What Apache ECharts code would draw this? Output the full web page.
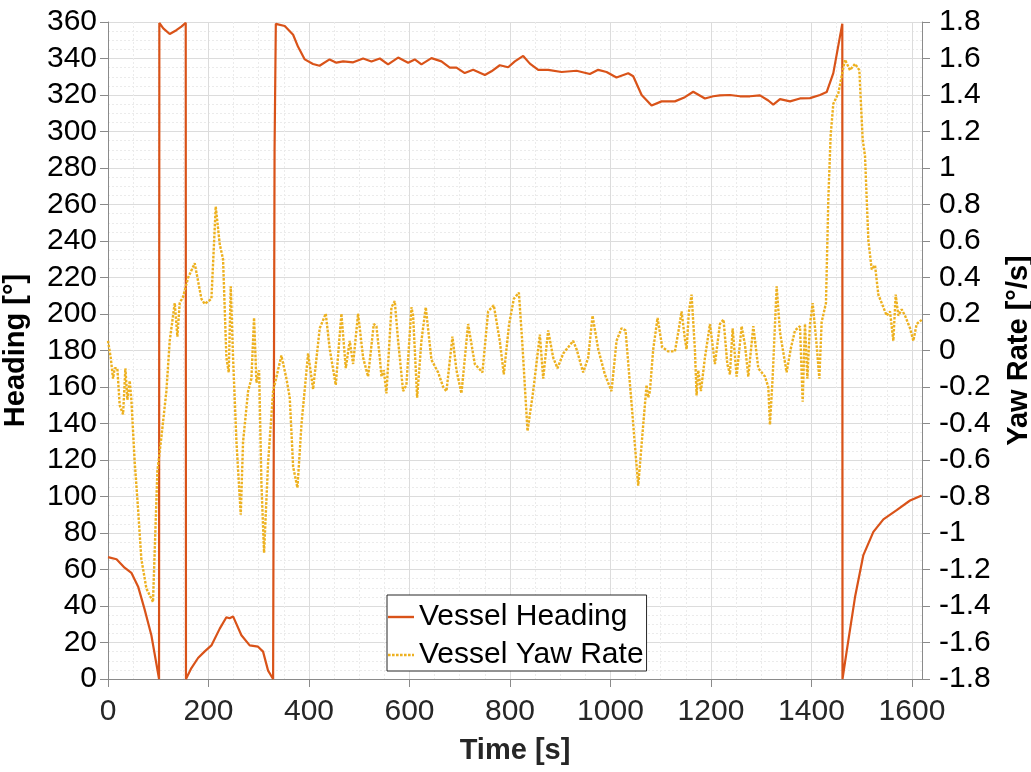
<!DOCTYPE html>
<html>
<head>
<meta charset="utf-8">
<script src="https://cdn.jsdelivr.net/npm/echarts@6/dist/echarts.min.js"></script>
<style>html,body{margin:0;padding:0;background:#fff;}#c{width:1031px;height:772px;}</style>
</head>
<body>
<div id="c"></div>
<script>
const headingTime = [0,17,33,46.5,60,73,86.3,101.6,102.2,110,122.8,136,146,154.7,155.2,166,179.2,192,205.8,222.4,235.6,242,248.9,265.5,282,298.7,308.6,318.6,328.6,331.5,334,351.8,368.4,378.3,391.6,408,421,441,454.6,468,488,507.7,524.3,541,557.4,577.4,597.3,610.5,623.8,643.7,663.6,680.2,693.5,710,726.7,750,763.2,779.7,796.4,809.7,826.3,839.6,856.2,876,902.6,932.5,959,975.6,992.2,1012,1035.3,1045.3,1062,1081.8,1101.7,1128.2,1148.1,1164.7,1188,1204.5,1217.9,1237.8,1257.7,1277.6,1297.5,1314.1,1324,1337.4,1357.3,1377.2,1397.1,1417,1430.3,1443.5,1461.4,1461.8,1470,1486.7,1503.3,1523.2,1543.1,1569.6,1596.2,1619.4];
const headingValue = [66.8,65.6,61,58.2,50.6,38,24,0,359.5,356.5,353.4,355.5,357.5,359.6,0,6,11.5,15,18.4,27.6,33.8,33.3,34.3,24,18.4,17.7,15,4.6,0,290,359,357.8,353,346.4,339.5,337,336,339.5,337.7,338.4,337.9,340,338.4,340,336.8,340.5,337.7,339.5,336.8,340.2,338.4,335,335,332,333.8,331,333,336.3,335.2,338.4,341.4,337.2,333.8,333.8,332.6,333.3,331.5,333.8,332.6,329.6,331.9,330.3,320,314.2,316.5,316.5,318.8,321.8,318.1,319.3,319.8,320,319.3,319.3,319.8,317,314.7,317.7,316.5,318.1,318.3,320,321.6,332,359.1,0,15,44.9,67.9,80.6,87.5,92.5,97.8,100.6];

const yawTime = [0,5.4,10,13.3,18.6,23.3,30,34.6,38.6,43.2,46.5,53.2,59.8,66.4,76.4,89.6,93,98.3,106.2,116.2,122.8,132.8,138.1,142.7,149.4,159.3,172.6,185.9,192.5,205.8,214.4,222.4,229,235.6,240.3,244.3,248.9,255.6,264.2,268.8,278.8,285.4,290.7,295.4,300.7,305.3,310.6,318.6,328.6,345.1,355.1,361.7,368.4,377,385,398.2,408.2,
421.4,433.4,441.3,453.3,464.5,473.2,481.1,487.8,497.7,507.7,517.6,528.9,534.2,540.9,544.2,548.8,554.1,564.1,570.7,577.4,587.3,593.9,603.9,607.2,615.2,623.8,632.4,643.7,657,667,673.6,685.5,693.5,703.4,716.7,730,745.2,756.5,767.8,779.7,787.7,798.3,807.6,
817.7,824.3,834.9,846.2,859.5,866.1,876,886,894.6,906,915.9,925.8,932.5,945.7,955.7,964.3,975.6,988.9,1002.1,1012.1,1022,1030,1042,1055.2,1065.2,1071.8,1075.1,1078.5,1085.1,1093.7,1103,1115,1128.2,1134.9,1141.5,1148.1,1151.5,1156.1,1161.4,1168,1171.4,1174.7,1180,1188,1198,1207.9,1217.8,
1225,1232.5,1237.8,1243.1,1251.1,1261,1267.7,1274.3,1284.3,1294.2,1307.5,1314.1,1317.4,1322.7,1330.7,1337.4,1350.6,1358.6,1367.2,1377.2,1382.5,1387.1,1391.8,1397.1,1402.4,1410.3,1415.7,1420.3,1428.9,1433.6,1438.2,1443.5,1453.5,1460.1,1466.7,1476.7,1486.7,1495.3,1501.9,1506.6,1513.2,1519.9,1526.5,1533.1,1543.1,1549.7,1556.3,1563,1567.6,1572.9,1579.6,1586.2,1596.2,1602.8,1609.4,1619.4];
const yawValue = [0.053,-0.039,-0.154,-0.097,-0.097,-0.30,-0.35,-0.097,-0.27,-0.166,-0.27,-0.614,-0.867,-1.143,-1.304,-1.378,-1.37,-0.66,-0.476,-0.223,0.053,0.26,0.076,0.26,0.294,0.398,0.478,0.283,0.255,0.283,0.789,0.582,0.50,-0.039,-0.12,0.352,-0.039,-0.5,-0.90,-0.5,-0.223,-0.154,0.179,-0.177,-0.108,-0.729,-1.109,-0.614,-0.223,-0.028,-0.154,-0.258,-0.637,-0.752,-0.407,-0.016,-0.212,
0.122,0.202,0.007,-0.189,0.202,-0.097,0.053,-0.074,0.202,-0.039,-0.143,0.145,0.133,-0.039,-0.143,-0.108,-0.235,0.237,0.271,0.053,-0.223,-0.189,0.237,0.191,-0.258,0.053,0.237,-0.051,-0.12,-0.2,-0.223,0.076,-0.108,-0.235,0.145,-0.074,-0.12,0.214,0.248,0.053,-0.131,0.145,0.283,
0.317,0.053,-0.442,-0.223,0.087,-0.154,0.110,-0.039,-0.097,-0.016,0.018,0.053,0.007,-0.12,-0.039,0.191,0.007,-0.131,-0.223,0.053,0.122,0.11,-0.292,-0.741,-0.407,-0.189,-0.258,-0.223,0.007,0.179,0.018,-0.005,-0.005,0.099,0.214,0.064,0.007,0.214,0.306,0.007,-0.246,-0.108,-0.223,-0.039,0.145,-0.074,0.145,
0.17,-0.074,-0.131,0.122,-0.143,0.133,0.03,-0.143,0.133,-0.097,-0.143,-0.2,-0.407,-0.154,0.352,0.099,-0.12,0.007,0.11,0.133,-0.281,0.145,-0.154,0.145,0.26,0.03,-0.154,0.156,0.26,0.835,1.18,1.352,1.41,1.502,1.594,1.536,1.571,1.536,1.157,1.065,0.605,0.444,0.467,0.306,0.237,0.191,0.214,0.053,0.306,0.191,0.225,0.191,0.122,0.053,0.145,0.168];

const seriesNames = ['Vessel Heading', 'Vessel Yaw Rate'];
const axisTitles = {x: 'Time [s]', left: 'Heading [°]', right: 'Yaw Rate [°/s]'};

const FONT = "'Liberation Sans', Arial, Helvetica, sans-serif";
const chart = echarts.init(document.getElementById('c'), null, {renderer: 'canvas'});
const headingData = headingTime.map((t, i) => [t, headingValue[i]]);
const yawData = yawTime.map((t, i) => [t, yawValue[i]]);

const majorGrid = {show: true, lineStyle: {color: '#dcdcdc', width: 1}};
const minorGrid = {show: true, lineStyle: {color: '#ebebeb', width: 1, type: [2, 2]}};
const solidIcon = 'path://M0,0H26V2.4H0Z';
const dotIcon = 'path://M0,0h2.6v2.4h-2.6z M4,0h2.6v2.4h-2.6z M8,0h2.6v2.4h-2.6z M12,0h2.6v2.4h-2.6z M16,0h2.6v2.4h-2.6z M20,0h2.6v2.4h-2.6z M24,0h2v2.4h-2z';

chart.setOption({
  animation: false,
  backgroundColor: '#ffffff',
  textStyle: {fontFamily: FONT},
  grid: {left: 108, right: 109, top: 22, bottom: 93, containLabel: false, outerBoundsMode: 'none'},
  legend: {
    left: 387, top: 595, orient: 'vertical',
    backgroundColor: '#ffffff', borderColor: '#262626', borderWidth: 1,
    padding: [7, 3, 1, 1], itemGap: 8, itemWidth: 26, itemHeight: 2.4,
    selectedMode: false,
    textStyle: {fontSize: 30, lineHeight: 30, color: '#000', fontFamily: FONT},
    data: [{name: seriesNames[0], icon: solidIcon}, {name: seriesNames[1], icon: dotIcon}]
  },
  xAxis: {
    type: 'value', min: 0, max: 1620, interval: 200,
    name: axisTitles.x, nameLocation: 'middle', nameGap: 57,
    nameTextStyle: {fontSize: 29, fontWeight: 'bold', color: '#262626', fontFamily: FONT},
    axisLine: {show: true, onZero: false, lineStyle: {color: '#8a8a8a', width: 1}},
    axisTick: {show: true, inside: false, length: 8, lineStyle: {color: '#8a8a8a'}},
    axisLabel: {fontSize: 30, color: '#262626', margin: 18, showMaxLabel: false, fontFamily: FONT,
      formatter: v => String(v)},
    splitLine: majorGrid,
    minorTick: {show: false, splitNumber: 4},
    minorSplitLine: minorGrid
  },
  yAxis: [{
    type: 'value', position: 'left', min: 0, max: 360, interval: 20,
    name: axisTitles.left, nameLocation: 'middle', nameGap: 78, nameRotate: 90,
    nameTextStyle: {fontSize: 29, fontWeight: 'bold', color: '#000', fontFamily: FONT},
    axisLine: {show: true, lineStyle: {color: '#8a8a8a', width: 1}},
    axisTick: {show: true, inside: false, length: 8, lineStyle: {color: '#8a8a8a'}},
    axisLabel: {fontSize: 30, color: '#000', margin: 11, fontFamily: FONT, formatter: v => String(v)},
    splitLine: majorGrid,
    minorTick: {show: false, splitNumber: 4},
    minorSplitLine: minorGrid
  }, {
    type: 'value', position: 'right', min: -1.8, max: 1.8, interval: 0.2,
    name: axisTitles.right, nameLocation: 'middle', nameGap: 82, nameRotate: 90,
    nameTextStyle: {fontSize: 29, fontWeight: 'bold', color: '#000', fontFamily: FONT},
    axisLine: {show: true, lineStyle: {color: '#8a8a8a', width: 1}},
    axisTick: {show: true, inside: false, length: 8, lineStyle: {color: '#8a8a8a'}},
    axisLabel: {fontSize: 30, color: '#000', margin: 17, fontFamily: FONT,
      formatter: v => String(+(+v).toFixed(1))},
    splitLine: {show: false}
  }],
  series: [{
    name: seriesNames[0], type: 'line', yAxisIndex: 0, data: headingData,
    showSymbol: false, symbol: 'none', smooth: false,
    lineStyle: {color: '#D95319', width: 2.2}, itemStyle: {color: '#D95319'}, z: 2
  }, {
    name: seriesNames[1], type: 'line', yAxisIndex: 1, data: yawData,
    showSymbol: false, symbol: 'none', smooth: false,
    lineStyle: {color: '#EDB120', width: 2.4, type: [2.6, 1.4]}, itemStyle: {color: '#EDB120'}, z: 3
  }]
});
</script>
</body>
</html>
